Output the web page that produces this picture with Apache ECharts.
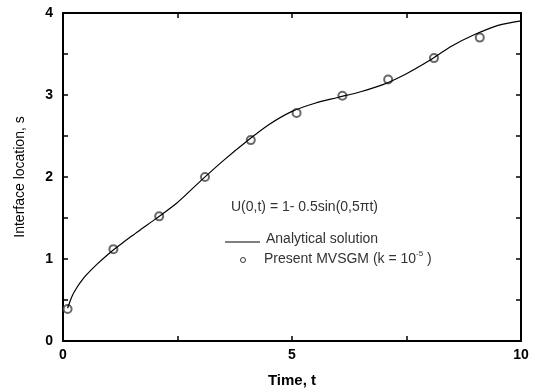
<!DOCTYPE html>
<html>
<head>
<meta charset="utf-8">
<script src="https://cdn.jsdelivr.net/npm/echarts@6/dist/echarts.min.js"></script>
<style>html,body{margin:0;padding:0;background:#fff}#c{width:535px;height:390px}</style>
</head>
<body>
<div id="c"></div>
<script>
// Analytical solution (curve)
const curveT = [0.1, 0.2, 0.3, 0.4, 0.5, 0.75, 1.0, 1.25, 1.5, 1.75, 2.0, 2.5, 3.0, 3.5, 4.0, 4.5, 5.0, 5.5, 6.0, 6.5, 7.0, 7.5, 8.0, 8.5, 9.0, 9.5, 10];
const curveS = [0.40, 0.55, 0.65, 0.73, 0.80, 0.94, 1.065, 1.175, 1.28, 1.38, 1.48, 1.69, 1.95, 2.20, 2.43, 2.64, 2.80, 2.90, 2.97, 3.04, 3.13, 3.26, 3.42, 3.60, 3.74, 3.85, 3.905];
// Present MVSGM points
const pointT = [0.1, 1.1, 2.1, 3.1, 4.1, 5.1, 6.1, 7.1, 8.1, 9.1];
const pointS = [0.39, 1.12, 1.52, 2.00, 2.45, 2.78, 2.99, 3.19, 3.45, 3.70];
// Axis ticks
const xTicks = [0, 5, 10];
const yTicks = [0, 1, 2, 3, 4];
const xName = 'Time, t';
const yName = 'Interface location, s';
const formulaText = 'U(0,t) = 1- 0.5sin(0,5\u03c0t)';
const legendLine = 'Analytical solution';

const chart = echarts.init(document.getElementById('c'), null, {renderer: 'canvas'});
const F = 'Liberation Sans, Arial, sans-serif';
const baseAxis = {
  type: 'value',
  axisLine: {show: true, onZero: false, lineStyle: {color: '#000', width: 2}},
  axisTick: {show: true, inside: true, length: 5, lineStyle: {color: '#000', width: 1.5}},
  minorTick: {show: true, splitNumber: 2, length: 5, lineStyle: {color: '#000', width: 1.5}},
  splitLine: {show: false}
};
chart.setOption({
  animation: false,
  grid: {left: 63, right: 14, top: 13, bottom: 49, outerBoundsMode: 'none', containLabel: false},
  xAxis: [
    Object.assign({}, baseAxis, {
      min: xTicks[0], max: xTicks[xTicks.length - 1], interval: 5, position: 'bottom',
      name: xName, nameLocation: 'middle', nameGap: 32,
      nameTextStyle: {fontFamily: F, fontSize: 15, fontWeight: 'bold', color: '#000'},
      axisLabel: {fontFamily: F, fontSize: 14, fontWeight: 'bold', color: '#000', margin: 7}
    }),
    Object.assign({}, baseAxis, {
      min: 0, max: 10, interval: 5, position: 'top', axisLabel: {show: false}
    })
  ],
  yAxis: [
    Object.assign({}, baseAxis, {
      min: yTicks[0], max: yTicks[yTicks.length - 1], interval: 1, position: 'left',
      name: yName, nameLocation: 'middle', nameGap: 36,
      nameTextStyle: {fontFamily: F, fontSize: 14, color: '#000'},
      axisLabel: {fontFamily: F, fontSize: 14, fontWeight: 'bold', color: '#000', margin: 10}
    }),
    Object.assign({}, baseAxis, {
      min: 0, max: 4, interval: 1, position: 'right', axisLabel: {show: false}
    })
  ],
  series: [
    {
      type: 'line', name: legendLine,
      data: curveT.map((t, i) => [t, curveS[i]]),
      smooth: 0.3, showSymbol: false,
      lineStyle: {color: '#000', width: 1.2}
    },
    {
      type: 'scatter', name: 'Present MVSGM',
      data: pointT.map((t, i) => [t, pointS[i]]),
      symbol: 'emptyCircle', symbolSize: 8,
      itemStyle: {color: '#444', borderColor: '#444', borderWidth: 1}
    }
  ],
  graphic: [
    {type: 'text', x: 231, y: 207, style: {text: formulaText, font: '14px ' + F, fill: '#333', verticalAlign: 'middle'}},
    {type: 'line', shape: {x1: 225, y1: 242, x2: 260, y2: 242}, style: {stroke: '#000', lineWidth: 1}},
    {type: 'text', x: 266, y: 239, style: {text: legendLine, font: '14px ' + F, fill: '#333', verticalAlign: 'middle'}},
    {type: 'circle', shape: {cx: 243, cy: 260, r: 2.5}, style: {fill: '#fff', stroke: '#333', lineWidth: 1}},
    {type: 'text', x: 264, y: 259, style: {
      text: '{a|Present MVSGM (k = 10}{s|-5}{a| )}',
      verticalAlign: 'middle',
      rich: {
        a: {font: '14px ' + F, fill: '#333'},
        s: {font: '8px ' + F, fill: '#333', padding: [0, 0, 10, 0]}
      }
    }}
  ]
});
</script>
</body>
</html>
